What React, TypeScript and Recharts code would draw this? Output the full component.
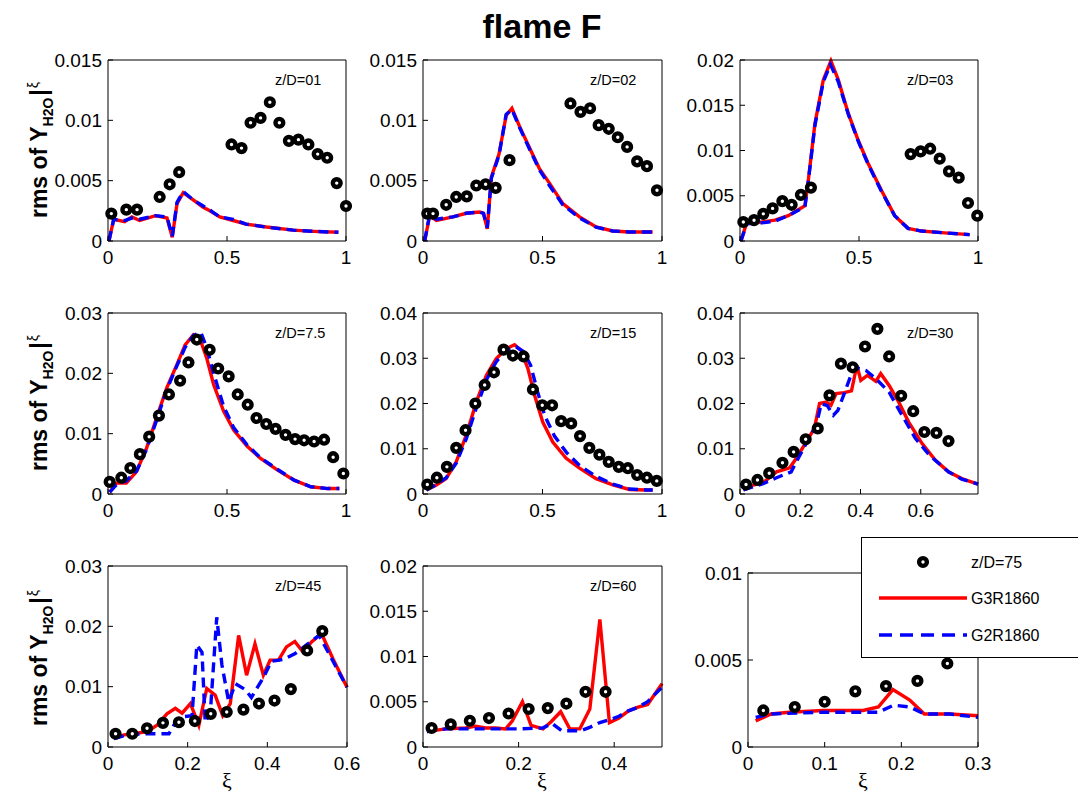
import React from 'react'
import { ComposedChart, Line, Scatter, XAxis, YAxis } from 'recharts'

// experimental points [xi, rms]
const expZ01 = [[0.014,0.00227],[0.077,0.0026],[0.122,0.0026],[0.217,0.00365],[0.259,0.0047],[0.299,0.0057],[0.519,0.008],[0.561,0.0077],[0.599,0.0098],[0.641,0.0102],[0.68,0.0115],[0.72,0.0098],[0.76,0.0083],[0.8,0.0084],[0.842,0.008],[0.881,0.0072],[0.921,0.0069],[0.961,0.0048],[1.0,0.0029]]
const expZ02 = [[0.018,0.00227],[0.042,0.00227],[0.097,0.003],[0.139,0.00365],[0.183,0.0037],[0.223,0.0046],[0.262,0.0047],[0.304,0.0044],[0.362,0.0067],[0.617,0.0114],[0.659,0.0107],[0.699,0.011],[0.735,0.0096],[0.777,0.0093],[0.815,0.0086],[0.854,0.0078],[0.896,0.0066],[0.937,0.0062],[0.979,0.0042]]
const expZ03 = [[0.014,0.0021],[0.059,0.0023],[0.098,0.003],[0.137,0.0036],[0.178,0.0044],[0.217,0.004],[0.256,0.0051],[0.298,0.0059],[0.717,0.0096],[0.759,0.0099],[0.799,0.0102],[0.839,0.0091],[0.878,0.0077],[0.919,0.007],[0.958,0.0042],[0.997,0.0028]]
const expZ7_5 = [[0.007,0.002],[0.056,0.0027],[0.094,0.0043],[0.134,0.0066],[0.173,0.0095],[0.214,0.013],[0.256,0.0165],[0.303,0.0188],[0.338,0.0218],[0.373,0.0256],[0.427,0.0239],[0.463,0.0208],[0.507,0.0195],[0.545,0.0165],[0.587,0.0148],[0.624,0.0126],[0.665,0.0116],[0.704,0.0108],[0.746,0.0098],[0.786,0.0091],[0.824,0.0089],[0.866,0.0087],[0.908,0.009],[0.946,0.0061],[0.989,0.0034]]
const expZ15 = [[0.018,0.0021],[0.058,0.0036],[0.1,0.006],[0.139,0.0102],[0.178,0.0141],[0.219,0.02],[0.258,0.0241],[0.297,0.0269],[0.337,0.0319],[0.376,0.0306],[0.421,0.0304],[0.46,0.0231],[0.499,0.0196],[0.54,0.0196],[0.578,0.0161],[0.62,0.0156],[0.657,0.0128],[0.696,0.0102],[0.738,0.0087],[0.777,0.0071],[0.819,0.006],[0.857,0.0057],[0.896,0.0042],[0.937,0.0036],[0.978,0.0029]]
const expZ30 = [[0.02,0.0021],[0.058,0.0031],[0.097,0.0046],[0.141,0.0069],[0.178,0.0093],[0.218,0.0121],[0.258,0.0145],[0.297,0.0218],[0.335,0.0288],[0.374,0.028],[0.415,0.0326],[0.456,0.0365],[0.495,0.0304],[0.535,0.0217],[0.575,0.0183],[0.612,0.0137],[0.652,0.0135],[0.692,0.0117]]
const expZ45 = [[0.019,0.0022],[0.061,0.0022],[0.098,0.0031],[0.138,0.004],[0.178,0.0041],[0.218,0.0043],[0.258,0.0055],[0.298,0.0058],[0.34,0.0062],[0.379,0.0072],[0.418,0.0077],[0.459,0.0096],[0.5,0.016],[0.538,0.0192]]
const expZ60 = [[0.018,0.0021],[0.058,0.0025],[0.098,0.0029],[0.138,0.0032],[0.179,0.0037],[0.221,0.0042],[0.261,0.0043],[0.3,0.0048],[0.34,0.0061],[0.382,0.0061]]
const expZ75 = [[0.02,0.0021],[0.061,0.0023],[0.1,0.0026],[0.14,0.0032],[0.18,0.0035],[0.221,0.0038],[0.26,0.0048]]

// G3R1860 (red, solid)
const g3Z01 = [[0.004,0],[0.024,0.0018],[0.07,0.0016],[0.1,0.002],[0.133,0.0017],[0.2,0.0021],[0.248,0.0019],[0.27,0.0003],[0.29,0.0031],[0.316,0.004],[0.358,0.0034],[0.4,0.0028],[0.428,0.0025],[0.47,0.002],[0.526,0.0017],[0.58,0.0014],[0.666,0.00116],[0.778,0.0009],[0.863,0.0008],[0.968,0.00072]]
const g3Z02 = [[0.007,0],[0.028,0.0021],[0.056,0.0017],[0.125,0.002],[0.181,0.0023],[0.237,0.0024],[0.253,0.0023],[0.269,0.001],[0.286,0.0053],[0.318,0.0072],[0.348,0.0104],[0.372,0.011],[0.404,0.0095],[0.446,0.0077],[0.487,0.006],[0.529,0.0048],[0.585,0.0031],[0.655,0.002],[0.724,0.00116],[0.794,0.00083],[0.864,0.00075],[0.961,0.00075]]
const g3Z03 = [[0.004,0],[0.028,0.002],[0.091,0.0021],[0.147,0.0023],[0.203,0.0028],[0.273,0.0039],[0.287,0.0067],[0.315,0.013],[0.35,0.0178],[0.382,0.0199],[0.413,0.0178],[0.455,0.0141],[0.497,0.0111],[0.538,0.0086],[0.594,0.0056],[0.65,0.0028],[0.706,0.0014],[0.762,0.0011],[0.86,0.0009],[0.965,0.0007]]
const g3Z7_5 = [[0.007,0.0003],[0.035,0.0018],[0.077,0.0018],[0.12,0.0037],[0.162,0.0076],[0.204,0.0126],[0.246,0.0175],[0.289,0.0214],[0.324,0.0247],[0.359,0.0264],[0.387,0.0256],[0.415,0.0225],[0.444,0.0181],[0.486,0.0137],[0.528,0.0106],[0.585,0.0079],[0.641,0.0059],[0.711,0.004],[0.782,0.0023],[0.852,0.0012],[0.923,0.0009],[0.972,0.0009]]
const g3Z15 = [[0.014,0.0009],[0.056,0.002],[0.097,0.0034],[0.139,0.0071],[0.181,0.013],[0.223,0.0203],[0.265,0.0262],[0.306,0.0299],[0.348,0.0321],[0.383,0.033],[0.411,0.0317],[0.439,0.0277],[0.467,0.0218],[0.501,0.0159],[0.543,0.0115],[0.599,0.0079],[0.655,0.0057],[0.724,0.0034],[0.794,0.002],[0.864,0.001],[0.933,0.0009],[0.961,0.0009]]
const g3Z30 = [[0.011,0.0009],[0.033,0.0018],[0.077,0.0025],[0.121,0.0049],[0.165,0.0058],[0.187,0.0079],[0.22,0.0115],[0.247,0.0145],[0.264,0.02],[0.286,0.0203],[0.302,0.0196],[0.319,0.0222],[0.346,0.0224],[0.37,0.0228],[0.388,0.0284],[0.401,0.0251],[0.423,0.0262],[0.451,0.0249],[0.467,0.0266],[0.495,0.024],[0.527,0.0203],[0.56,0.0159],[0.604,0.0112],[0.648,0.0075],[0.692,0.0049],[0.736,0.0034],[0.79,0.0022]]
const g3Z45 = [[0.015,0.0014],[0.04,0.002],[0.065,0.0022],[0.1,0.0026],[0.123,0.0036],[0.148,0.0055],[0.169,0.0064],[0.186,0.0056],[0.207,0.0072],[0.228,0.0036],[0.248,0.0097],[0.269,0.0086],[0.288,0.0052],[0.307,0.0072],[0.328,0.0185],[0.348,0.0119],[0.369,0.0171],[0.39,0.0119],[0.407,0.0144],[0.428,0.0144],[0.448,0.0166],[0.469,0.0175],[0.49,0.0157],[0.511,0.0174],[0.536,0.0188],[0.565,0.0146],[0.6,0.0099]]
const g3Z60 = [[0.008,0.0017],[0.047,0.002],[0.089,0.0021],[0.11,0.0023],[0.131,0.0021],[0.152,0.0021],[0.173,0.002],[0.187,0.0029],[0.208,0.005],[0.226,0.0024],[0.251,0.002],[0.268,0.0028],[0.288,0.0039],[0.307,0.002],[0.328,0.002],[0.349,0.0042],[0.37,0.0141],[0.39,0.0027],[0.41,0.0032],[0.43,0.004],[0.45,0.0044],[0.47,0.0047],[0.5,0.007]]
const g3Z75 = [[0.01,0.0015],[0.03,0.0019],[0.054,0.002],[0.098,0.0021],[0.15,0.0021],[0.17,0.0023],[0.189,0.0033],[0.211,0.0027],[0.23,0.0019],[0.263,0.0019],[0.3,0.0018]]

// G2R1860 (blue, dashed)
const g2Z01 = [[0.004,0],[0.024,0.0018],[0.07,0.0017],[0.1,0.0019],[0.133,0.0018],[0.2,0.0021],[0.248,0.002],[0.27,0.0004],[0.29,0.0032],[0.316,0.0041],[0.358,0.0034],[0.4,0.0029],[0.42,0.0027],[0.44,0.0024],[0.47,0.002],[0.526,0.0018],[0.58,0.0014],[0.666,0.00115],[0.778,0.0009],[0.863,0.0008],[0.968,0.00072]]
const g2Z02 = [[0.007,0],[0.028,0.0022],[0.056,0.0018],[0.125,0.002],[0.181,0.0023],[0.237,0.0024],[0.253,0.0023],[0.269,0.0011],[0.286,0.0052],[0.318,0.0071],[0.348,0.0105],[0.372,0.0109],[0.404,0.0094],[0.446,0.0076],[0.487,0.0059],[0.529,0.0046],[0.585,0.003],[0.655,0.0019],[0.724,0.00115],[0.794,0.00083],[0.864,0.00075],[0.961,0.00075]]
const g2Z03 = [[0.004,0],[0.028,0.0019],[0.091,0.002],[0.147,0.0022],[0.203,0.0028],[0.273,0.0038],[0.287,0.0066],[0.315,0.0128],[0.35,0.0176],[0.38,0.0195],[0.413,0.0176],[0.455,0.014],[0.497,0.011],[0.538,0.0085],[0.594,0.0055],[0.65,0.0028],[0.706,0.0014],[0.762,0.0011],[0.86,0.0009],[0.965,0.0007]]
const g2Z7_5 = [[0.007,0.0003],[0.035,0.0015],[0.077,0.0022],[0.12,0.0038],[0.162,0.0074],[0.204,0.0122],[0.246,0.0172],[0.289,0.0212],[0.324,0.0243],[0.359,0.0263],[0.39,0.0268],[0.415,0.0242],[0.444,0.02],[0.486,0.0145],[0.528,0.011],[0.585,0.0081],[0.641,0.006],[0.711,0.0041],[0.782,0.0023],[0.852,0.0012],[0.923,0.0009],[0.972,0.0009]]
const g2Z15 = [[0.014,0.0009],[0.056,0.0021],[0.097,0.0036],[0.139,0.0068],[0.181,0.0122],[0.223,0.019],[0.265,0.0252],[0.306,0.0292],[0.348,0.0318],[0.39,0.0325],[0.42,0.0315],[0.45,0.0285],[0.48,0.0225],[0.51,0.0172],[0.55,0.0128],[0.6,0.0092],[0.655,0.0063],[0.724,0.0039],[0.794,0.0022],[0.864,0.0011],[0.933,0.0009],[0.961,0.0009]]
const g2Z30 = [[0.011,0.0009],[0.077,0.0023],[0.121,0.0036],[0.159,0.0046],[0.17,0.0049],[0.187,0.0071],[0.22,0.0112],[0.253,0.0152],[0.27,0.02],[0.29,0.0195],[0.31,0.0174],[0.325,0.0185],[0.346,0.0222],[0.368,0.0262],[0.382,0.028],[0.418,0.0273],[0.451,0.0255],[0.495,0.0225],[0.538,0.0174],[0.582,0.0123],[0.63,0.0085],[0.692,0.0049],[0.736,0.0033],[0.79,0.0022]]
const g2Z45 = [[0.015,0.0014],[0.048,0.002],[0.09,0.0022],[0.115,0.0022],[0.153,0.0022],[0.165,0.0036],[0.186,0.005],[0.211,0.0052],[0.223,0.0169],[0.236,0.0157],[0.244,0.0041],[0.257,0.0058],[0.273,0.0215],[0.286,0.0136],[0.303,0.0075],[0.32,0.0105],[0.345,0.0095],[0.36,0.0082],[0.39,0.0115],[0.41,0.0142],[0.44,0.0145],[0.47,0.0155],[0.5,0.017],[0.53,0.0185],[0.6,0.0099]]
const g2Z60 = [[0.008,0.0017],[0.047,0.002],[0.1,0.002],[0.15,0.002],[0.2,0.002],[0.25,0.0021],[0.27,0.0026],[0.29,0.0018],[0.33,0.0018],[0.35,0.0022],[0.37,0.0027],[0.39,0.003],[0.41,0.0034],[0.43,0.004],[0.45,0.0044],[0.47,0.005],[0.5,0.0066]]
const g2Z75 = [[0.01,0.0017],[0.03,0.0019],[0.1,0.002],[0.17,0.002],[0.19,0.0024],[0.211,0.0023],[0.23,0.0019],[0.263,0.0019],[0.3,0.0017]]

const TICKS_X1 = [0, 0.5, 1]
const TICKS_X06 = [0, 0.2, 0.4, 0.6]
const TICKS_X05 = [0, 0.2, 0.4]
const TICKS_X03 = [0, 0.1, 0.2, 0.3]
const TICKS_Y015 = [0, 0.005, 0.01, 0.015]
const TICKS_Y02 = [0, 0.005, 0.01, 0.015, 0.02]
const TICKS_Y03 = [0, 0.01, 0.02, 0.03]
const TICKS_Y04 = [0, 0.01, 0.02, 0.03, 0.04]
const TICKS_Y001 = [0, 0.005, 0.01]

const FONT = '"Liberation Sans", Arial, Helvetica, sans-serif'

const PANELS = [
  { tag: 'z/D=01', exp: expZ01, g3: g3Z01, g2: g2Z01, xMax: 1, xTicks: TICKS_X1, yMax: 0.015, yTicks: TICKS_Y015, left: 108, top: 60, w: 238, h: 181 },
  { tag: 'z/D=02', exp: expZ02, g3: g3Z02, g2: g2Z02, xMax: 1, xTicks: TICKS_X1, yMax: 0.015, yTicks: TICKS_Y015, left: 423, top: 60, w: 239, h: 181 },
  { tag: 'z/D=03', exp: expZ03, g3: g3Z03, g2: g2Z03, xMax: 1, xTicks: TICKS_X1, yMax: 0.02, yTicks: TICKS_Y02, left: 740, top: 60, w: 238, h: 181 },
  { tag: 'z/D=7.5', exp: expZ7_5, g3: g3Z7_5, g2: g2Z7_5, xMax: 1, xTicks: TICKS_X1, yMax: 0.03, yTicks: TICKS_Y03, left: 108, top: 313, w: 238, h: 181 },
  { tag: 'z/D=15', exp: expZ15, g3: g3Z15, g2: g2Z15, xMax: 1, xTicks: TICKS_X1, yMax: 0.04, yTicks: TICKS_Y04, left: 423, top: 313, w: 239, h: 181 },
  { tag: 'z/D=30', exp: expZ30, g3: g3Z30, g2: g2Z30, xMax: 0.79, xTicks: TICKS_X06, yMax: 0.04, yTicks: TICKS_Y04, left: 740, top: 313, w: 238, h: 181 },
  { tag: 'z/D=45', exp: expZ45, g3: g3Z45, g2: g2Z45, xMax: 0.6, xTicks: TICKS_X06, yMax: 0.03, yTicks: TICKS_Y03, left: 108, top: 566, w: 239, h: 181 },
  { tag: 'z/D=60', exp: expZ60, g3: g3Z60, g2: g2Z60, xMax: 0.5, xTicks: TICKS_X05, yMax: 0.02, yTicks: TICKS_Y02, left: 423, top: 566, w: 239, h: 181 },
  { tag: '', exp: expZ75, g3: g3Z75, g2: g2Z75, xMax: 0.3, xTicks: TICKS_X03, yMax: 0.01, yTicks: TICKS_Y001, left: 748, top: 573, w: 230, h: 174 },
]

const toPts = (arr: number[][]) => arr.map(([x, y]) => ({ x, y }))

const Ring = (props: any) => {
  const { cx, cy } = props
  if (cx == null || cy == null) return null
  return <circle cx={cx} cy={cy} r={3.9} fill="#fff" stroke="#000" strokeWidth={4.4} />
}

const tickStyle = { fill: '#000', fontSize: 19, fontFamily: FONT }

function Panel({ p }: { p: (typeof PANELS)[number] }) {
  const W = p.w + 90
  const H = p.h + 45
  return (
    <div style={{ position: 'absolute', left: p.left - 60, top: p.top - 10 }}>
      <ComposedChart width={W} height={H} margin={{ top: 9, right: 29, bottom: 0, left: 0 }}>
        <XAxis xAxisId="b" type="number" dataKey="x" domain={[0, p.xMax]} ticks={p.xTicks} interval={0}
          height={35} tickSize={-5} tickMargin={15} stroke="#000" tick={tickStyle} />
        <XAxis xAxisId="t" orientation="top" type="number" dataKey="x" domain={[0, p.xMax]} ticks={p.xTicks} interval={0}
          height={1} tickSize={-5} tick={false} stroke="#000" />
        <YAxis yAxisId="l" type="number" dataKey="y" domain={[0, p.yMax]} ticks={p.yTicks} interval={0}
          width={60} tickSize={-5} tickMargin={11} stroke="#000" tick={tickStyle} />
        <YAxis yAxisId="r" orientation="right" type="number" dataKey="y" domain={[0, p.yMax]} ticks={p.yTicks} interval={0}
          width={1} tickSize={-5} tick={false} stroke="#000" />
        <Scatter xAxisId="b" yAxisId="l" data={toPts(p.exp)} shape={Ring} isAnimationActive={false} />
        {/* same fixed domains on both axis pairs, so the red line can carry the top/right frame */}
        <Line xAxisId="t" yAxisId="r" data={toPts(p.g3)} dataKey="y" type="linear" stroke="#ff0000"
          strokeWidth={3.4} dot={false} activeDot={false} isAnimationActive={false} />
        <Line xAxisId="b" yAxisId="l" data={toPts(p.g2)} dataKey="y" type="linear" stroke="#0000ff"
          strokeWidth={3.4} strokeDasharray="10 6" dot={false} activeDot={false} isAnimationActive={false} />
      </ComposedChart>
      {p.tag && (
        <div style={{ position: 'absolute', left: 60 + 167, top: 10 + 12, fontFamily: FONT, fontSize: 14.5, color: '#000', whiteSpace: 'nowrap' }}>
          {p.tag}
        </div>
      )}
    </div>
  )
}

function YLabel({ cy }: { cy: number }) {
  return (
    <svg style={{ position: 'absolute', left: 10, top: cy - 100 }} width={50} height={200}>
      <text transform="rotate(-90) translate(-100, 0)" x={0} y={37} textAnchor="middle"
        fontFamily={FONT} fontWeight="bold" fontSize={23} fill="#000">
        rms of Y<tspan fontSize={14} dy={6}>H2O</tspan><tspan dx={2} dy={-6}>|</tspan><tspan fontSize={14} fontWeight="normal" dx={1} dy={-9}>ξ</tspan>
      </text>
    </svg>
  )
}

function Legend() {
  return (
    <div style={{ position: 'absolute', left: 861, top: 537, width: 230, height: 121, background: '#fff', border: '1.5px solid #000', boxSizing: 'border-box' }}>
      <svg width={230} height={120} style={{ position: 'absolute', left: 0, top: 0 }}>
        <circle cx={61} cy={24} r={3.9} fill="#fff" stroke="#000" strokeWidth={4.4} />
        <line x1={17} x2={105} y1={60} y2={60} stroke="#ff0000" strokeWidth={3.4} />
        <line x1={17} x2={105} y1={97} y2={97} stroke="#0000ff" strokeWidth={3.4} strokeDasharray="13 8" />
        <text x={109} y={30} fontFamily={FONT} fontSize={16} fill="#000">z/D=75</text>
        <text x={109} y={66} fontFamily={FONT} fontSize={16} fill="#000">G3R1860</text>
        <text x={109} y={103} fontFamily={FONT} fontSize={16} fill="#000">G2R1860</text>
      </svg>
    </div>
  )
}

export default function App() {
  return (
    <div style={{ position: 'absolute', left: 0, top: 0, width: 1078, height: 801, overflow: 'hidden', background: '#fff' }}>
      <div style={{ position: 'absolute', left: 0, width: 1084, top: 7, textAlign: 'center', fontFamily: FONT, fontWeight: 'bold', fontSize: 34, color: '#000' }}>
        flame F
      </div>
      {PANELS.map((p, i) => <Panel key={i} p={p} />)}
      <YLabel cy={150} />
      <YLabel cy={403} />
      <YLabel cy={658} />
      {[227, 542, 863].map((cx) => (
        <div key={cx} style={{ position: 'absolute', left: cx - 20, width: 40, top: 768, textAlign: 'center', fontFamily: '"Liberation Serif", serif', fontSize: 22, color: '#000' }}>
          ξ
        </div>
      ))}
      <Legend />
    </div>
  )
}
